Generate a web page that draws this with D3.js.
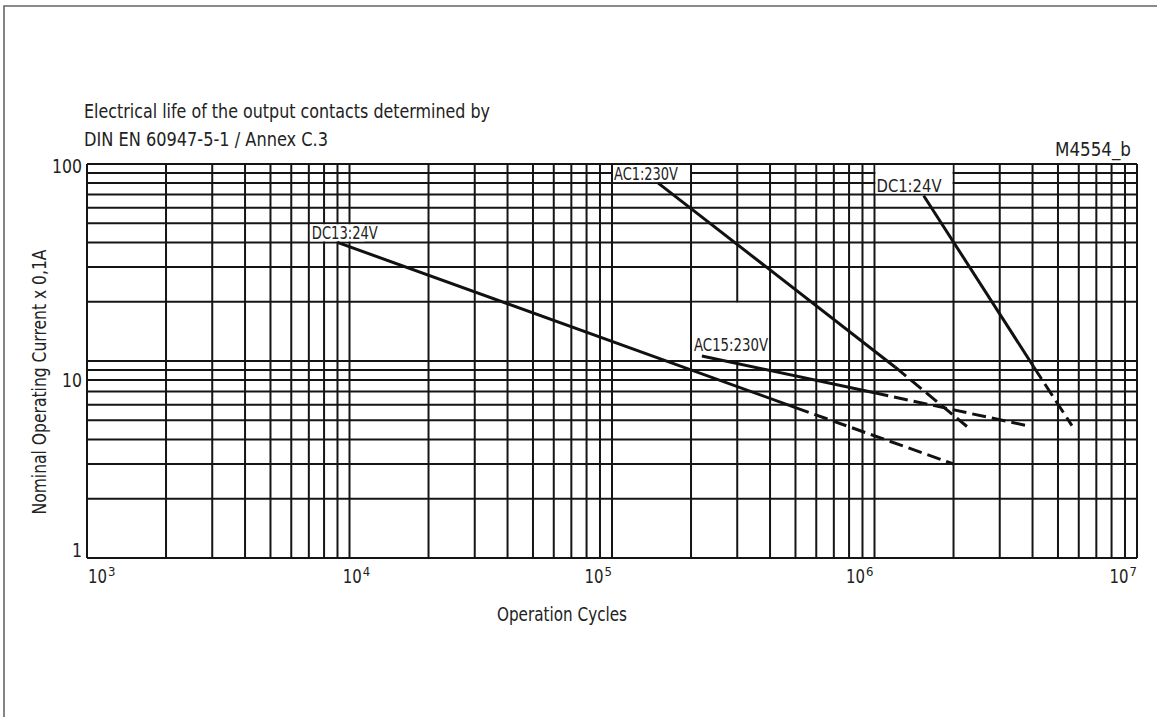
<!DOCTYPE html>
<html>
<head>
<meta charset="utf-8">
<script src="https://cdn.jsdelivr.net/npm/d3@7"></script>
<style>
  body { margin: 0; background: #fff; }
  svg text { font-family: "Liberation Sans Narrow", "DejaVu Sans Condensed", "Liberation Sans", sans-serif; fill: #222; }
</style>
</head>
<body>
<svg width="1157" height="717"></svg>
<script>
'use strict';

// series: cycles / current (x 0,1A); solid part = first two points, dashed = last two
var seriesNames = ["DC13:24V", "AC1:230V", "DC1:24V", "AC15:230V"];
var dc13Cycles = [9000, 500000, 2000000];
var dc13Current = [40, 5.8, 3];
var ac1Cycles = [150000, 1200000, 2250000];
var ac1Current = [80, 9.3, 4.65];
var dc1Cycles = [1540000, 4050000, 5650000];
var dc1Current = [69, 9.3, 4.7];
var ac15Cycles = [220000, 1000000, 3800000];
var ac15Current = [10.6, 6.9, 4.7];

var xTickExponents = [3, 4, 5, 6, 7];
var yTickLabels = ["1", "10", "100"];

var svg = d3.select("svg"),
  margin = { top: 164, right: 20, bottom: 159, left: 87 },
  width = +svg.attr("width") - margin.left - margin.right,
  height = +svg.attr("height") - margin.top - margin.bottom;

var x = d3.scaleLog().domain([1e3, 1e7]).range([0, width]),
  y = d3.scaleLog().domain([1, 100]).range([height, 0]);

// outer frame (only top and left edges are in view)
svg.append("path")
  .attr("d", "M4,717V6H1157")
  .attr("fill", "none")
  .attr("stroke", "#666")
  .attr("stroke-width", 1.6);

var g = svg.append("g")
  .attr("transform", "translate(" + margin.left + "," + margin.top + ")");

// grid
g.append("g").selectAll("line")
  .data(y.ticks())
  .enter().append("line")
  .attr("x1", 0).attr("x2", width)
  .attr("y1", function (d) { return y(d); })
  .attr("y2", function (d) { return y(d); })
  .attr("stroke", "#151515").attr("stroke-width", 2);

g.append("g").selectAll("line")
  .data(x.ticks())
  .enter().append("line")
  .attr("y1", 0).attr("y2", height)
  .attr("x1", function (d) { return x(d); })
  .attr("x2", function (d) { return x(d); })
  .attr("stroke", "#151515").attr("stroke-width", 2);

// label boxes sit in grid cells
var labelCells = [
  { x0: 7000, x1: 11500, y0: 40, y1: 50, dx: 3, dy: -3, w: 66 },
  { x0: 1e5, x1: 2e5, y0: 80, y1: 100, dx: 2, dy: -3, w: 64 },
  { x0: 1e6, x1: 2e6, y0: 70, y1: 100, dx: 2, dy: -3, w: 65 },
  { x0: 2e5, x1: 4e5, y0: 10, y1: 20, dx: 3, dy: -10, w: 74 }
];

labelCells.forEach(function (c, i) {
  g.append("rect")
    .attr("x", x(c.x0) + 1)
    .attr("y", y(c.y1) + 1)
    .attr("width", x(c.x1) - x(c.x0) - 2)
    .attr("height", y(c.y0) - y(c.y1) - 2)
    .attr("fill", "#fff");
  g.append("text")
    .attr("x", x(c.x0) + c.dx)
    .attr("y", y(c.y0) + c.dy)
    .attr("font-size", 17)
    .attr("textLength", c.w)
    .attr("lengthAdjust", "spacingAndGlyphs")
    .text(seriesNames[i]);
});

// curves
var line = d3.line()
  .x(function (d) { return x(d[0]); })
  .y(function (d) { return y(d[1]); });

var series = [
  [dc13Cycles, dc13Current],
  [ac1Cycles, ac1Current],
  [dc1Cycles, dc1Current],
  [ac15Cycles, ac15Current]
];

series.forEach(function (s) {
  var pts = s[0].map(function (v, i) { return [v, s[1][i]]; });
  g.append("path")
    .attr("d", line(pts.slice(0, 2)))
    .attr("fill", "none").attr("stroke", "#111").attr("stroke-width", 3);
  g.append("path")
    .attr("d", line(pts.slice(1)))
    .attr("fill", "none").attr("stroke", "#111").attr("stroke-width", 3)
    .attr("stroke-dasharray", "14,6");
});

// y tick labels
var yNudge = { "1": -1, "10": 26, "100": 9 };
g.selectAll(".ylab")
  .data(yTickLabels)
  .enter().append("text")
  .attr("class", "ylab")
  .attr("x", -5)
  .attr("y", function (d) { return y(+d) + yNudge[d]; })
  .attr("text-anchor", "end")
  .attr("font-size", 20)
  .attr("textLength", function (d) { return d.length * 10; })
  .attr("lengthAdjust", "spacingAndGlyphs")
  .text(function (d) { return d; });

// x tick labels 10^n
var xAnchor = { 3: "start", 4: "middle", 5: "end", 6: "end", 7: "end" };
var xShift = { 3: 1, 4: 7, 5: 0, 6: -1, 7: 0 };
xTickExponents.forEach(function (e) {
  var t = g.append("text")
    .attr("x", x(Math.pow(10, e)) + xShift[e])
    .attr("y", height + 25)
    .attr("text-anchor", xAnchor[e])
    .attr("font-size", 20);
  t.append("tspan").attr("textLength", 19).attr("lengthAdjust", "spacingAndGlyphs").text("10");
  t.append("tspan").attr("font-size", 13).attr("dy", -7).attr("dx", 1).text(e);
});

// titles
function label(txt, px, py, w, anchor) {
  return svg.append("text")
    .attr("x", px).attr("y", py)
    .attr("text-anchor", anchor || "start")
    .attr("font-size", 20)
    .attr("textLength", w)
    .attr("lengthAdjust", "spacingAndGlyphs")
    .text(txt);
}
label("Electrical life of the output contacts determined by", 84, 118, 406);
label("DIN EN 60947-5-1 / Annex C.3", 84, 146, 244);
label("M4554_b", 1131, 156, 76, "end");
label("Operation Cycles", 562, 621, 130, "middle");

label("Nominal Operating Current x 0,1A", 0, 0, 265, "middle")
  .attr("transform", "translate(46,382) rotate(-90)");
</script>
</body>
</html>
